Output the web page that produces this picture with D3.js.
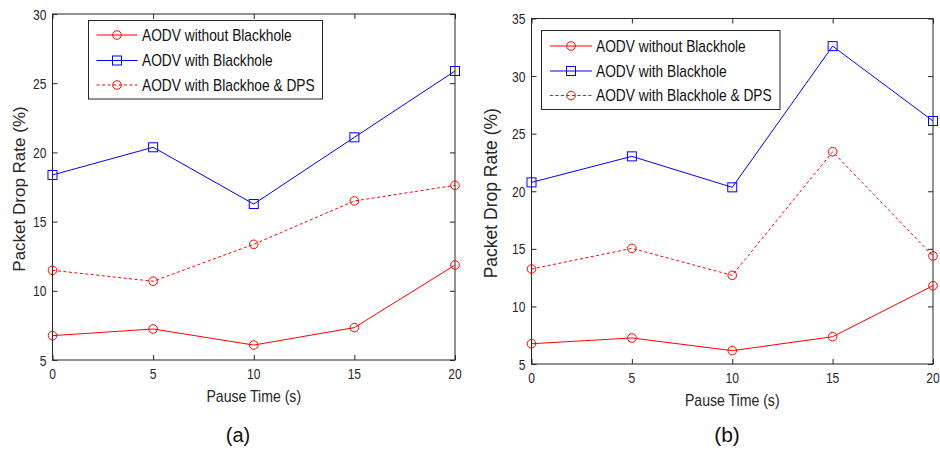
<!DOCTYPE html>
<html><head><meta charset="utf-8">
<script src="https://cdn.jsdelivr.net/npm/d3@7"></script>
<style>body{margin:0;background:#fff}svg{display:block}</style>
</head><body>
<svg id="c" width="940" height="453"></svg>
<script>
const pauseTimes = [0, 5, 10, 15, 20];
const seriesNames = ["AODV without Blackhole", "AODV with Blackhole", "AODV with Blackhoe & DPS"];
const seriesNamesB = ["AODV without Blackhole", "AODV with Blackhole", "AODV with Blackhole & DPS"];
const a_without = [6.76, 7.24, 6.08, 7.34, 11.86];
const a_with = [18.37, 20.37, 16.27, 21.09, 25.88];
const a_dps = [11.48, 10.69, 13.36, 16.49, 17.62];
const b_without = [6.76, 7.26, 6.16, 7.37, 11.8];
const b_with = [20.77, 23.03, 20.34, 32.6, 26.1];
const b_dps = [13.25, 15.04, 12.7, 23.43, 14.38];
const xTicks = [0, 5, 10, 15, 20];
const yTicksA = [5, 10, 15, 20, 25, 30];
const yTicksB = [5, 10, 15, 20, 25, 30, 35];

const svg = d3.select("#c");
const FONT = "'Liberation Sans', Arial, sans-serif";
const AX = "#262626";

// text with horizontal condensing (scaleX) around its anchor point
function txt(g, x, y, s, size, sx, anchor, rot, fill) {
  const t = g.append("g").attr("transform", `translate(${x},${y})` + (rot ? ` rotate(${rot})` : ""));
  t.append("text").attr("transform", `scale(${sx},1)`).attr("text-anchor", anchor || "start")
    .attr("font-family", FONT).attr("font-size", size).attr("fill", fill || AX).text(s);
  return t;
}

function panel(o) {
  const g = svg.append("g");
  const x = d3.scaleLinear().domain([0, 20]).range([o.l, o.r]);
  const y = d3.scaleLinear().domain(o.ydom).range([o.b, o.t]);
  g.append("rect").attr("x", o.l).attr("y", o.t).attr("width", o.r - o.l).attr("height", o.b - o.t)
    .attr("fill", "none").attr("stroke", AX).attr("stroke-width", 1);
  const tl = 5;
  const xb = d3.axisBottom(x).tickValues(xTicks).tickSize(-tl).tickFormat("");
  const xt = d3.axisTop(x).tickValues(xTicks).tickSize(-tl).tickFormat("");
  const yl = d3.axisLeft(y).tickValues(o.yticks).tickSize(-tl).tickFormat("");
  const yr = d3.axisRight(y).tickValues(o.yticks).tickSize(-tl).tickFormat("");
  [[xb, `translate(0,${o.b})`], [xt, `translate(0,${o.t})`], [yl, `translate(${o.l},0)`], [yr, `translate(${o.r},0)`]].forEach(([ax, tr]) => {
    const a = g.append("g").attr("transform", tr).call(ax);
    a.select(".domain").remove();
    a.selectAll("line").attr("stroke", AX);
  });
  // tick labels (condensed)
  xTicks.forEach(v => txt(g, x(v), o.b + 19, String(v), 15.5, 0.78, "middle"));
  o.yticks.forEach(v => txt(g, o.l - 6, y(v) + 5.5, String(v), 15.5, 0.78, "end"));
  // axis labels
  txt(g, (o.l + o.r) / 2, o.b + 42, "Pause Time (s)", 16, 0.88, "middle");
  txt(g, o.ylx, (o.t + o.b) / 2 + 2, "Packet Drop Rate (%)", o.ylSize, 1, "middle", -90);
  txt(g, o.capX, 442, o.cap, o.capSize, 1, "middle", 0, "#111");

  const line = d3.line().x((d, i) => x(pauseTimes[i])).y(d => y(d));
  const series = [
    {vals: o.s[0], color: "#ff0000", dash: null, marker: "circle"},
    {vals: o.s[1], color: "#0000ff", dash: null, marker: "square"},
    {vals: o.s[2], color: "#ff0000", dash: "3,2.5", marker: "circle"}
  ];
  function marker(sel, m, color, cx, cy) {
    if (m === "circle") sel.append("circle").attr("cx", cx).attr("cy", cy).attr("r", 4.3)
      .attr("fill", "none").attr("stroke", color).attr("stroke-width", 1);
    else sel.append("rect").attr("x", cx - 4.5).attr("y", cy - 4.5).attr("width", 9).attr("height", 9)
      .attr("fill", "none").attr("stroke", color).attr("stroke-width", 1);
  }
  series.forEach(s => {
    g.append("path").datum(s.vals).attr("d", line).attr("fill", "none").attr("stroke", s.color)
      .attr("stroke-width", 1).attr("stroke-dasharray", s.dash);
    s.vals.forEach((v, i) => marker(g, s.marker, s.color, x(pauseTimes[i]), y(v)));
  });
  const L = o.leg;
  g.append("rect").attr("x", L.x0).attr("y", L.y0).attr("width", L.x1 - L.x0).attr("height", L.y1 - L.y0)
    .attr("fill", "#fff").attr("stroke", AX).attr("stroke-width", 1);
  series.forEach((s, i) => {
    const yy = L.rows[i];
    g.append("line").attr("x1", L.lx0).attr("x2", L.lx1).attr("y1", yy).attr("y2", yy)
      .attr("stroke", s.color).attr("stroke-width", 1).attr("stroke-dasharray", s.dash);
    marker(g, s.marker, s.color, (L.lx0 + L.lx1) / 2, yy);
    txt(g, L.tx, yy + 5.8, o.names[i], 16, 0.86, "start", 0, "#111");
  });
}

panel({l: 52.5, r: 455, t: 14, b: 360, ydom: [5, 30], yticks: yTicksA,
  s: [a_without, a_with, a_dps], names: seriesNames, cap: "(a)", capX: 238, capSize: 20,
  ylx: 25, ylSize: 17,
  leg: {x0: 88.5, x1: 322.5, y0: 20.5, y1: 99, rows: [35, 60.5, 85], lx0: 96.5, lx1: 137.5, tx: 142}});
panel({l: 531.5, r: 933, t: 18.5, b: 364, ydom: [5, 35], yticks: yTicksB,
  s: [b_without, b_with, b_dps], names: seriesNamesB, cap: "(b)", capX: 727, capSize: 21,
  ylx: 497, ylSize: 17.5,
  leg: {x0: 541.5, x1: 780, y0: 30.5, y1: 109.5, rows: [46, 71, 95.5], lx0: 550, lx1: 592, tx: 596}});
</script>
</body></html>
